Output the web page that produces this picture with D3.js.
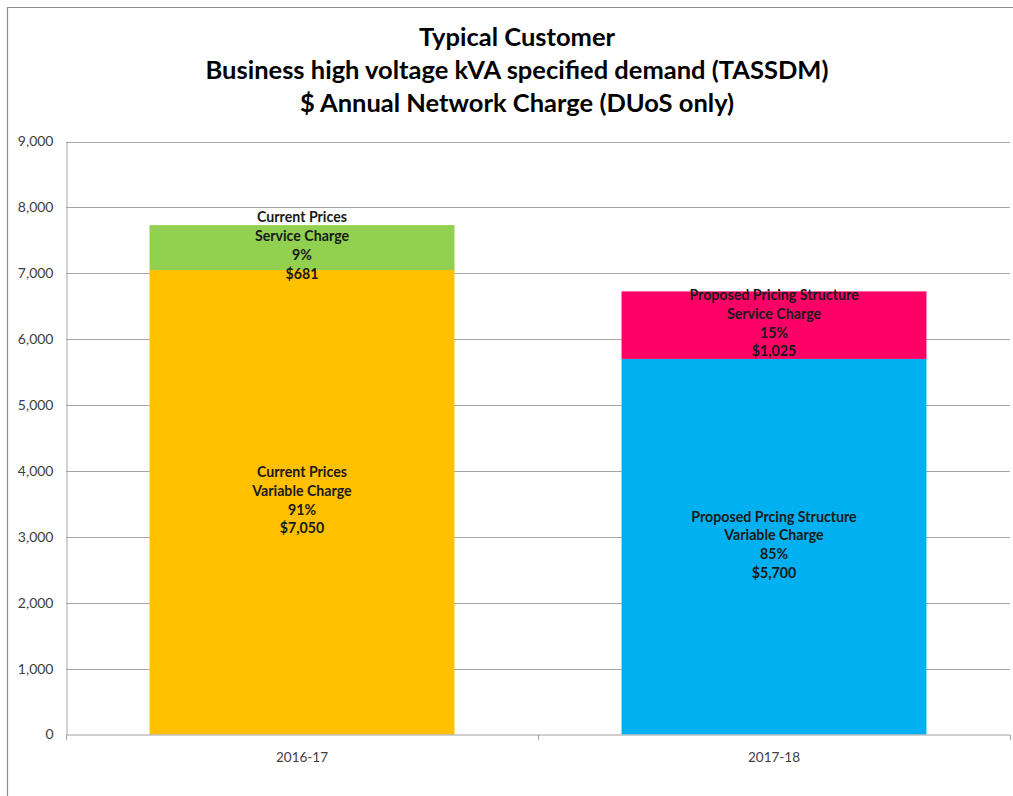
<!DOCTYPE html>
<html>
<head>
<meta charset="utf-8">
<script src="https://cdn.jsdelivr.net/npm/d3@7"></script>
<style>
  body { margin: 0; background: #fff; }
  svg { display: block; font-family: Lato, "Open Sans", sans-serif; }
</style>
</head>
<body>
<div class="chart"></div>
<script>
var titleLines = ["Typical Customer", "Business high voltage kVA specified demand (TASSDM)", "$ Annual Network Charge (DUoS only)"];
var categories = ["2016-17", "2017-18"];
var variableValues = [7050, 5700];
var serviceValues = [681, 1025];
var variableLabels = [["Current Prices", "Variable Charge", "91%", "$7,050"], ["Proposed Prcing Structure", "Variable Charge", "85%", "$5,700"]];
var serviceLabels = [["Current Prices", "Service Charge", "9%", "$681"], ["Proposed Pricing Structure", "Service Charge", "15%", "$1,025"]];
var variableColors = ["#FFC000", "#00B0F0"];
var serviceColors = ["#92D050", "#FF0066"];
var yTicks = [0, 1000, 2000, 3000, 4000, 5000, 6000, 7000, 8000, 9000];

var width = 1013;
var height = 796;
var plotLeft = 66, plotRight = 1010, plotTop = 141.5, plotBottom = 734.5;

var svg = d3.select(".chart")
  .append("svg")
  .attr("width", width)
  .attr("height", height);

// outer chart border (cropped on right and bottom like the picture)
svg.append("path")
  .attr("d", "M7.5," + height + "V7.5H" + width)
  .attr("fill", "none")
  .attr("stroke", "#8c8c8c")
  .attr("stroke-width", 1.2);

svg.selectAll(".title")
  .data(titleLines)
  .enter()
  .append("text")
  .attr("class", "title")
  .attr("x", 517)
  .attr("y", function(d, i) { return 46 + i * 33; })
  .attr("text-anchor", "middle")
  .attr("font-size", 25.5)
  .attr("font-weight", "bold")
  .attr("fill", "#000")
  .text(function(d) { return d; });

var x = d3.scaleBand()
  .domain(categories)
  .range([plotLeft, plotRight])
  .paddingInner(0.354)
  .paddingOuter(0.177);

var y = d3.scaleLinear()
  .domain([0, 9000])
  .range([plotBottom, plotTop]);

// gridlines
svg.append("g")
  .selectAll("line")
  .data(yTicks.slice(1))
  .enter()
  .append("line")
  .attr("x1", plotLeft)
  .attr("x2", plotRight)
  .attr("y1", function(d) { return Math.round(y(d)) + 0.5; })
  .attr("y2", function(d) { return Math.round(y(d)) + 0.5; })
  .attr("stroke", "#a6a6a6")
  .attr("stroke-width", 1);

// y axis
var yAxis = svg.append("g")
  .attr("transform", "translate(" + (plotLeft + 0.5) + ",0)")
  .call(d3.axisLeft(y).tickValues(yTicks).tickSize(0).tickPadding(13).tickFormat(d3.format(",")));
yAxis.select(".domain").attr("stroke", "#a6a6a6");
yAxis.selectAll("text")
  .attr("font-family", "Lato, sans-serif")
  .attr("font-size", 14)
  .attr("fill", "#404040");

// stacked bars
var bars = svg.append("g");
bars.selectAll(".var")
  .data(variableValues)
  .enter()
  .append("rect")
  .attr("class", "var")
  .attr("x", function(d, i) { return x(categories[i]); })
  .attr("width", x.bandwidth())
  .attr("y", function(d) { return y(d); })
  .attr("height", function(d) { return y(0) - y(d); })
  .attr("fill", function(d, i) { return variableColors[i]; });

bars.selectAll(".svc")
  .data(serviceValues)
  .enter()
  .append("rect")
  .attr("class", "svc")
  .attr("x", function(d, i) { return x(categories[i]); })
  .attr("width", x.bandwidth())
  .attr("y", function(d, i) { return y(variableValues[i] + d); })
  .attr("height", function(d, i) { return y(variableValues[i]) - y(variableValues[i] + d); })
  .attr("fill", function(d, i) { return serviceColors[i]; });

// x axis
var xAxis = svg.append("g")
  .attr("transform", "translate(0," + (plotBottom + 0.5) + ")");
xAxis.append("line")
  .attr("x1", plotLeft)
  .attr("x2", plotRight)
  .attr("stroke", "#a0a0a0");
xAxis.selectAll(".tick")
  .data([plotLeft, (plotLeft + plotRight) / 2, plotRight])
  .enter()
  .append("line")
  .attr("x1", function(d) { return Math.round(d) + 0.5; })
  .attr("x2", function(d) { return Math.round(d) + 0.5; })
  .attr("y1", 0)
  .attr("y2", 5)
  .attr("stroke", "#a0a0a0");
xAxis.selectAll("text")
  .data(categories)
  .enter()
  .append("text")
  .attr("x", function(d) { return x(d) + x.bandwidth() / 2; })
  .attr("y", 27)
  .attr("text-anchor", "middle")
  .attr("font-size", 13.5)
  .attr("fill", "#404040")
  .text(function(d) { return d; });

// data labels, centred in each segment
function drawLabel(lines, cx, cy) {
  var lh = 18.7;
  var t = svg.append("text")
    .attr("text-anchor", "middle")
    .attr("font-size", 14.2)
    .attr("font-weight", "bold")
    .attr("fill", "#1a1a1a");
  lines.forEach(function(line, k) {
    t.append("tspan")
      .attr("x", cx)
      .attr("y", cy + (k - (lines.length - 1) / 2) * lh + 3)
      .text(line);
  });
}

categories.forEach(function(c, i) {
  var cx = x(c) + x.bandwidth() / 2;
  drawLabel(variableLabels[i], cx, y(variableValues[i] / 2));
  drawLabel(serviceLabels[i], cx, y(variableValues[i] + serviceValues[i] / 2));
});
</script>
</body>
</html>
